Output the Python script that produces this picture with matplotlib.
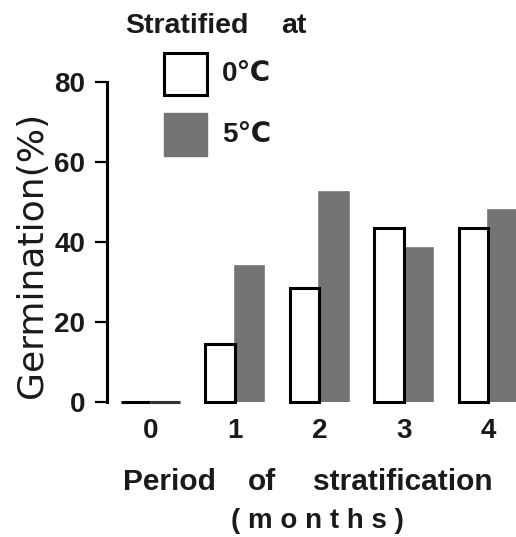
import matplotlib
matplotlib.use("Agg")
import matplotlib.pyplot as plt
import numpy as np
from matplotlib.patches import Rectangle

months = ["0", "1", "2", "3", "4"]
germ_0C = [0, 14.5, 28.5, 43.5, 43.5]
germ_5C = [0, 34, 52.5, 38.5, 48]
yticks = [0, 20, 40, 60, 80]
legend_labels = ["0℃", "5℃"]

W, H = 516, 537
FAM = ["Liberation Sans", "DejaVu Sans"]
fig = plt.figure(figsize=(W / 100, H / 100), dpi=100)
ax = fig.add_axes([106.7 / W, (H - 401.7) / H, (W - 106.7) / W, 320 / H])

x = np.arange(len(months))
bw = 0.348
dark = "#747474"
ink = "#1a1a1a"
ax.bar(x - bw / 2, germ_0C, width=bw, color="white", edgecolor="black", linewidth=2.2, clip_on=False, zorder=3)
ax.bar(x + bw / 2, germ_5C, width=bw, color=dark, edgecolor=dark, linewidth=1.2, zorder=2)
ax.bar(x[:1] + bw / 2, germ_5C[:1], width=bw, color=dark, edgecolor="#333333", linewidth=2.2, clip_on=False, zorder=3)

ax.set_xlim(-0.516, 4.328)
ax.set_ylim(0, 80)
for s in ["top", "right", "bottom"]:
    ax.spines[s].set_visible(False)
ax.spines["left"].set_linewidth(2.2)
ax.set_yticks(yticks)
ax.set_yticklabels([str(v) for v in yticks], fontsize=20, fontweight="bold", family=FAM, color=ink)
ax.tick_params(axis="y", length=8.6, width=1.6, pad=7)
ax.set_xticks(x)
ax.set_xticklabels(months, fontsize=20, fontweight="bold", family=FAM, color=ink)
ax.tick_params(axis="x", length=0, pad=11.5)

fig.text(42 / W, 1 - 255 / H, "Germination(%)", rotation=90, rotation_mode="anchor",
         ha="center", va="baseline", fontsize=26, color=ink, family=["DejaVu Sans"])

fig.text(123 / W, 1 - 490 / H, "Period", ha="left", va="baseline", fontsize=21.5, fontweight="bold", family=FAM, color=ink)
fig.text(248 / W, 1 - 490 / H, "of", ha="left", va="baseline", fontsize=21.5, fontweight="bold", family=FAM, color=ink)
fig.text(313 / W, 1 - 490 / H, "stratification", ha="left", va="baseline", fontsize=21.5, fontweight="bold", family=FAM, color=ink)
fig.text(317.5 / W, 1 - 528 / H, "( m o n t h s )", ha="center", va="baseline", fontsize=20, fontweight="bold", family=FAM, color=ink)

fig.text(125 / W, 1 - 33 / H, "Stratified", ha="left", va="baseline", fontsize=20.5, fontweight="bold", family=FAM, color=ink)
fig.text(281 / W, 1 - 33 / H, "at", ha="left", va="baseline", fontsize=20.5, fontweight="bold", family=FAM, color=ink)

# legend
fig.patches.append(Rectangle((164 / W, 1 - 95 / H), 43 / W, 42 / H, transform=fig.transFigure, facecolor="white", edgecolor="black", linewidth=2.2))
fig.patches.append(Rectangle((164 / W, 1 - 156 / H), 43 / W, 43 / H, transform=fig.transFigure, facecolor=dark, edgecolor=dark, linewidth=1))
fig.text(222 / W, 1 - 74 / H, legend_labels[0], ha="left", va="center", fontsize=20, fontweight="bold", family=FAM, color=ink)
fig.text(222 / W, 1 - 135 / H, legend_labels[1], ha="left", va="center", fontsize=20, fontweight="bold", family=FAM, color=ink)

fig.savefig("out.png", dpi=100)
